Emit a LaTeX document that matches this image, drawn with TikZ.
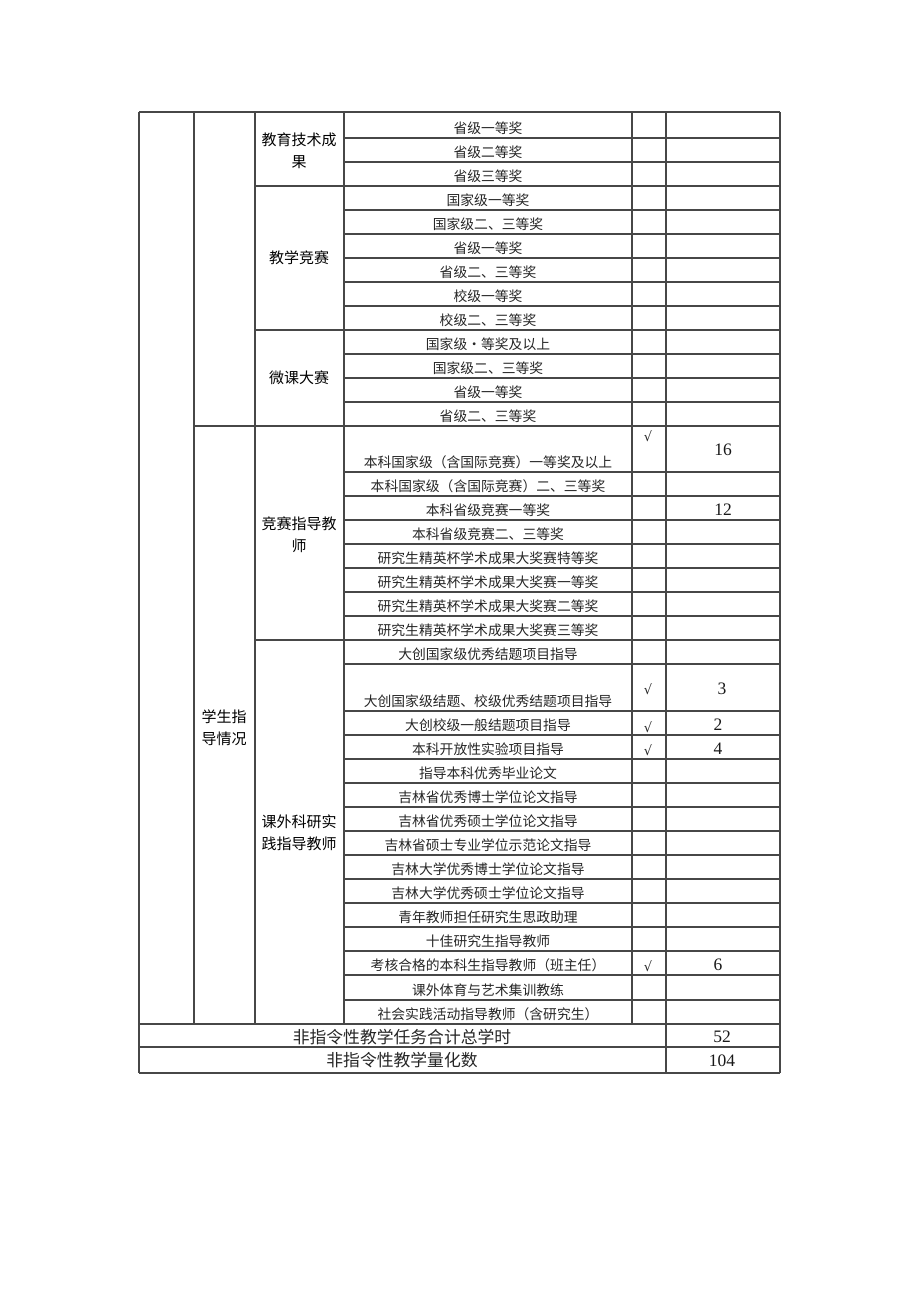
\documentclass[tikz,border=0pt]{standalone}
\usepackage{fontspec}
\setmainfont{Liberation Serif}
\newfontfamily\cjk{Noto Sans CJK SC}
\newfontfamily\symf{DejaVu Sans}
\begin{document}
\begin{tikzpicture}[x=1pt,y=-1pt,
  grid/.style={draw=black!72, line width=1.1pt},
  item/.style={font=\cjk\fontsize{13.8}{14}\selectfont, text=black!85, anchor=base, inner sep=0pt},
  grp/.style={font=\cjk\fontsize{15}{22}\selectfont, align=center, text=black, inner sep=0pt},
  num/.style={font=\fontsize{17.5}{17.5}\selectfont, text=black!90, inner sep=0pt},
  chk/.style={font=\symf\fontsize{13}{13}\selectfont, text=black!85, inner sep=0pt},
  tot/.style={font=\cjk\fontsize{16.8}{17}\selectfont, text=black!85, inner sep=0pt}]
\useasboundingbox (0,0) rectangle (920,1301);
\fill[white] (0,0) rectangle (920,1301);

% item rows: top/bottom/text
\foreach \t/\b/\s [count=\n] in {
112/138/省级一等奖, 138/162/省级二等奖, 162/186/省级三等奖,
186/210/国家级一等奖, 210/234/国家级二、三等奖, 234/258/省级一等奖,
258/282/省级二、三等奖, 282/306/校级一等奖, 306/330/校级二、三等奖,
330/354/国家级•等奖及以上, 354/378/国家级二、三等奖, 378/402/省级一等奖,
402/426/省级二、三等奖,
426/472/本科国家级（含国际竞赛）一等奖及以上,
472/496/本科国家级（含国际竞赛）二、三等奖,
496/520/本科省级竞赛一等奖, 520/544/本科省级竞赛二、三等奖,
544/568/研究生精英杯学术成果大奖赛特等奖,
568/592/研究生精英杯学术成果大奖赛一等奖,
592/616/研究生精英杯学术成果大奖赛二等奖,
616/640/研究生精英杯学术成果大奖赛三等奖,
640/664/大创国家级优秀结题项目指导,
664/711/大创国家级结题、校级优秀结题项目指导,
711/735/大创校级一般结题项目指导, 735/759/本科开放性实验项目指导,
759/783/指导本科优秀毕业论文, 783/807/吉林省优秀博士学位论文指导,
807/831/吉林省优秀硕士学位论文指导, 831/855/吉林省硕士专业学位示范论文指导,
855/879/吉林大学优秀博士学位论文指导, 879/903/吉林大学优秀硕士学位论文指导,
903/927/青年教师担任研究生思政助理, 927/951/十佳研究生指导教师,
951/975/考核合格的本科生指导教师（班主任）, 975/1000/课外体育与艺术集训教练,
1000/1024/社会实践活动指导教师（含研究生）}
{
  \node[item] (it\n) at (488,{\b-5}) {\s};
  \draw[grid] (344,\b) -- (780,\b);
}

% group labels
\node[grp] (g1) at (299,151) {教育技术成\\果};
\node[grp] (g2) at (299,258) {教学竞赛};
\node[grp] (g3) at (299,378) {微课大赛};
\node[grp] (g4) at (299,535) {竞赛指导教\\师};
\node[grp] (g5) at (299,833) {课外科研实\\践指导教师};
\node[grp] (s1) at (224,728) {学生指\\导情况};

% checks and values
\node[chk] (c1) at (648,436) {√};
\node[chk] (c2) at (648,689) {√};
\node[chk] (c3) at (648,727) {√};
\node[chk] (c4) at (648,750) {√};
\node[chk] (c5) at (648,966) {√};
\node[num] (v1) at (723,450) {16};
\node[num] (v2) at (723,510) {12};
\node[num] (v3) at (722,689) {3};
\node[num] (v4) at (718,725) {2};
\node[num] (v5) at (718,749) {4};
\node[num] (v6) at (718,965) {6};

% totals
\node[tot] (t1) at (402,1037) {非指令性教学任务合计总学时};
\node[tot] (t2) at (402,1060) {非指令性教学量化数};
\node[num] (v7) at (722,1037) {52};
\node[num] (v8) at (722,1061) {104};

% group boundary lines
\draw[grid] (255,186) -- (344,186);
\draw[grid] (255,330) -- (344,330);
\draw[grid] (194,426) -- (344,426);
\draw[grid] (255,640) -- (344,640);
% outer / full lines
\draw[grid] (139,112) -- (780,112);
\draw[grid] (139,1024) -- (780,1024);
\draw[grid] (139,1047) -- (780,1047);
\draw[grid] (139,1073) -- (780,1073);
% verticals
\draw[grid] (139,112) -- (139,1073);
\draw[grid] (194,112) -- (194,1024);
\draw[grid] (255,112) -- (255,1024);
\draw[grid] (344,112) -- (344,1024);
\draw[grid] (632,112) -- (632,1024);
\draw[grid] (666,112) -- (666,1073);
\draw[grid] (780,112) -- (780,1073);
\end{tikzpicture}
\end{document}
